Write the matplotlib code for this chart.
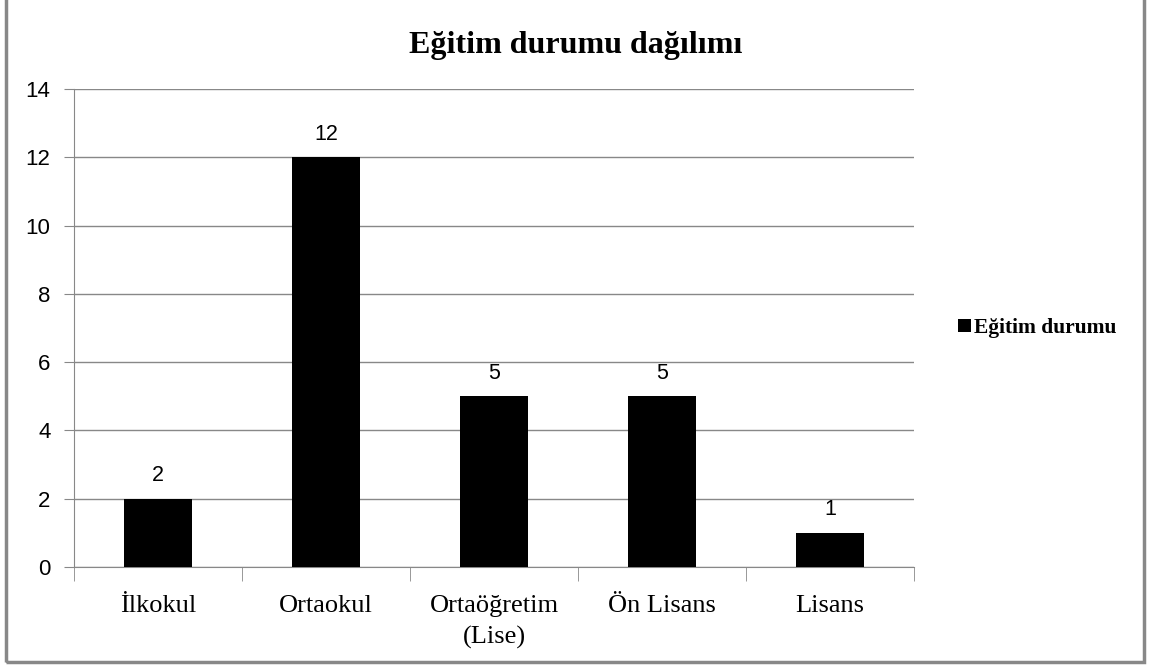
import numpy as np
import matplotlib.pyplot as plt
from matplotlib.patches import Rectangle

# Veriler
kategoriler = ['İlkokul', 'Ortaokul', 'Ortaöğretim\n(Lise)', 'Ön Lisans', 'Lisans']
degerler = [2, 12, 5, 5, 1]
y_ticks = [0, 2, 4, 6, 8, 10, 12, 14]

fig = plt.figure(figsize=(11.5, 6.66), dpi=100)
ax = fig.add_axes([74 / 1150, 1 - 567 / 666, (914 - 74) / 1150, (567 - 89) / 666])

x = np.arange(len(kategoriler))
bars = ax.bar(x, degerler, width=0.4, color='black', zorder=3, label='Eğitim durumu')

for xi, v in zip(x, degerler):
    ax.annotate(str(v), (xi, v), xytext=(0, 9), textcoords='offset points',
                ha='center', va='bottom', fontsize=15.5, family='Liberation Sans')

ax.set_xlim(-0.5, len(kategoriler) - 0.5)
ax.set_ylim(0, 14)
ax.set_yticks(y_ticks)
ax.set_yticklabels([str(t) for t in y_ticks], fontsize=16, family='Liberation Sans')
ax.set_xticks(x)
ax.set_xticklabels(kategoriler, fontsize=19, family='Liberation Serif', linespacing=1.5)
ax.set_xticks(np.arange(-0.5, len(kategoriler)), minor=True)
ax.tick_params(axis='x', which='major', length=0, pad=20)
ax.tick_params(axis='x', which='minor', length=10, color='#888888')
ax.tick_params(axis='y', length=7, color='#888888', pad=10)
ax.grid(axis='y', color='#888888', linewidth=1, zorder=0)
for s in ['top', 'right']:
    ax.spines[s].set_visible(False)
for s in ['left', 'bottom']:
    ax.spines[s].set_color('#888888')

fig.text(0.501, 1 - 45 / 666, 'Eğitim durumu dağılımı', ha='center', va='center',
         fontsize=23, fontweight='bold', family='Liberation Serif')

ax.legend(loc='center left', bbox_to_anchor=(1.029, 0.5), frameon=False,
          handlelength=0.6, handleheight=0.6, handletextpad=0.15,
          prop={'family': 'Liberation Serif', 'weight': 'bold', 'size': 15.5})

fig.patches.append(Rectangle((6 / 1150, 4 / 666), (1144 - 6) / 1150, 1.05,
                             transform=fig.transFigure, fill=False,
                             edgecolor='#888888', linewidth=2.5))

fig.savefig('out.png', dpi=100)
